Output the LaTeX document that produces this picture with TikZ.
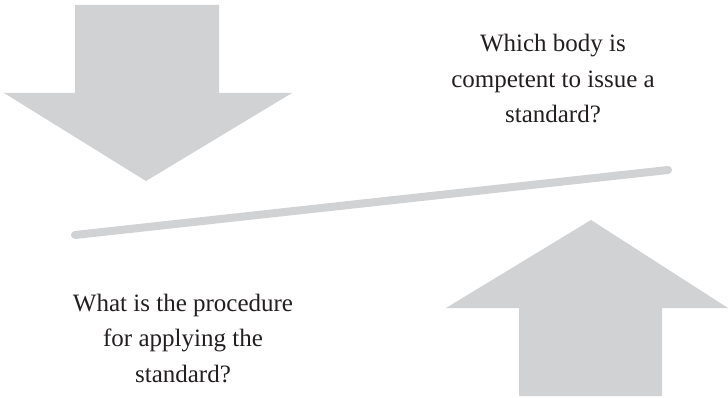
\documentclass[tikz,border=0pt]{standalone}
\usepackage{fontspec}
\setmainfont{Liberation Serif}
\definecolor{shapegray}{HTML}{D1D2D4}
\definecolor{textcol}{HTML}{231F20}
\begin{document}
\begin{tikzpicture}[x=1pt,y=-1pt,
  bigarrow/.style={fill=shapegray,draw=none},
  question/.style={align=center,text=textcol,inner sep=0pt,
    font=\fontsize{25pt}{35.5pt}\selectfont}]
\useasboundingbox (0,0) rectangle (728,398);
% down arrow
\fill[bigarrow] (75,5) -- (219,5) -- (219,93) -- (292,93) -- (146,181) -- (4,93) -- (75,93) -- cycle;
% up arrow
\fill[bigarrow] (519,396) -- (662,396) -- (662,308) -- (728,308) -- (591,220) -- (446,308) -- (519,308) -- cycle;
% diagonal line
\coordinate (l1) at (75,235);
\coordinate (l2) at (668,170);
\draw[shapegray,line width=8pt,line cap=round] (l1) -- (l2);
% texts (base anchor = baseline of the last line)
\node[question,anchor=base] (q1) at (553,123) {Which body is\\competent to issue a\\standard?};
\node[question,anchor=base] (q2) at (183,382) {What is the procedure\\for applying the\\standard?};
\end{tikzpicture}
\end{document}
